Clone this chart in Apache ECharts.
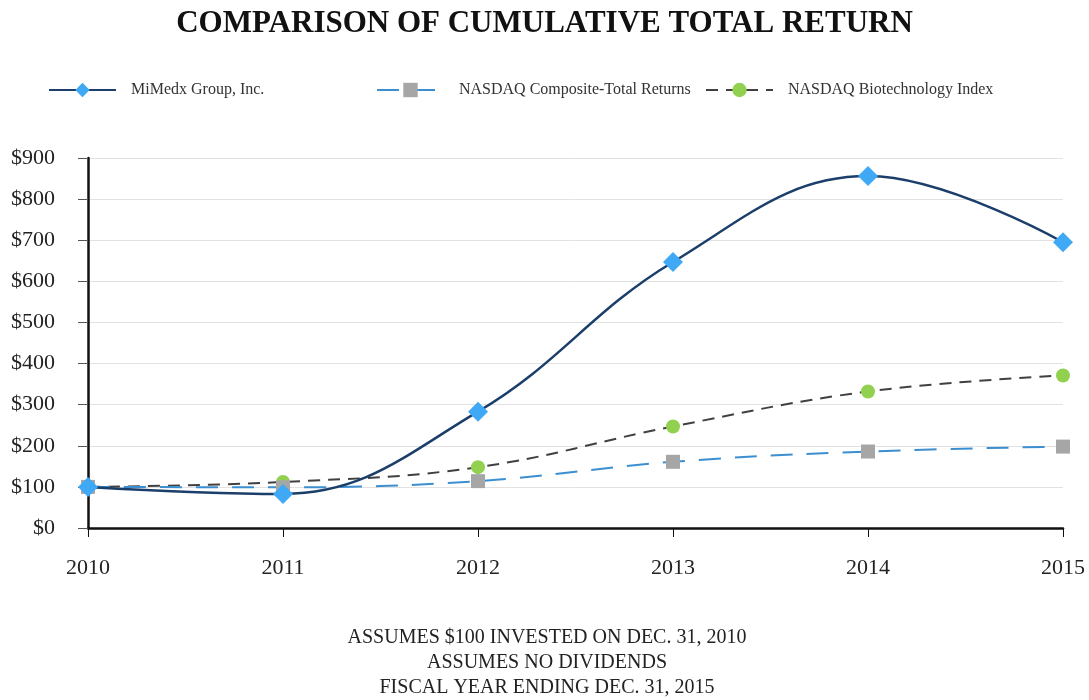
<!DOCTYPE html>
<html>
<head>
<meta charset="utf-8">
<script src="https://cdn.jsdelivr.net/npm/echarts@6/dist/echarts.min.js"></script>
<style>
html,body{margin:0;padding:0;background:#fff;}
#c{width:1089px;height:700px;}
</style>
</head>
<body>
<div id="c"></div>
<script>
const years = ['2010','2011','2012','2013','2014','2015'];
const mimedx = [100, 83, 283, 647, 856, 695];
const nasdaqComposite = [100, 99, 114, 161, 186, 198];
const nasdaqBiotech = [100, 112, 148, 247, 332, 371];
const seriesNames = ['MiMedx Group, Inc.', 'NASDAQ Composite-Total Returns', 'NASDAQ Biotechnology Index'];
const footnotes = ['ASSUMES $100 INVESTED ON DEC. 31, 2010', 'ASSUMES NO DIVIDENDS', 'FISCAL YEAR ENDING DEC. 31, 2015'];

const serif = '"Liberation Serif", "Times New Roman", serif';
const chart = echarts.init(document.getElementById('c'), null, {renderer: 'canvas'});
const legendBase = {
  top: 77, itemWidth: 67, itemHeight: 18, itemGap: 10,
  textStyle: {fontFamily: serif, fontSize: 16, color: '#333', padding: [0, 0, 0, 10]}
};
chart.setOption({
  animation: false,
  backgroundColor: '#fff',
  title: [
    {text: 'COMPARISON OF CUMULATIVE TOTAL RETURN', left: 'center', top: 3,
     textStyle: {fontFamily: serif, fontSize: 31, fontWeight: 'bold', color: '#111'}},
    {text: footnotes.join('\n'), left: 542, textAlign: 'center', top: 620,
     textStyle: {fontFamily: serif, fontSize: 20, fontWeight: 'normal', color: '#222', lineHeight: 25}}
  ],
  legend: [
    Object.assign({}, legendBase, {left: 43, data: [seriesNames[0]]}),
    Object.assign({}, legendBase, {left: 371, data: [seriesNames[1]]}),
    Object.assign({}, legendBase, {left: 700, data: [seriesNames[2]]})
  ],
  grid: {left: 88, right: 26, top: 158, bottom: 172, containLabel: false},
  xAxis: {
    type: 'category', data: years, boundaryGap: false,
    axisLine: {lineStyle: {color: '#111', width: 2.5}},
    axisTick: {show: true, length: 9, lineStyle: {color: '#111', width: 1}},
    axisLabel: {fontFamily: serif, fontSize: 22, color: '#222', margin: 29}
  },
  yAxis: {
    type: 'value', min: 0, max: 900, interval: 100,
    axisLine: {show: true, lineStyle: {color: '#111', width: 2.5}},
    axisTick: {show: true, length: 10, lineStyle: {color: '#555', width: 1}},
    axisLabel: {fontFamily: serif, fontSize: 22, color: '#222', margin: 33, formatter: v => '$' + v},
    splitLine: {lineStyle: {color: '#e2e2e2', width: 1}}
  },
  series: [
    {
      name: seriesNames[2], type: 'line', data: nasdaqBiotech, smooth: 0.4,
      symbol: 'circle', symbolSize: 14,
      lineStyle: {color: '#404040', width: 2, type: [12, 8]},
      itemStyle: {color: '#92d050'}, z: 3
    },
    {
      name: seriesNames[1], type: 'line', data: nasdaqComposite, smooth: 0.4,
      symbol: 'rect', symbolSize: 14,
      lineStyle: {color: '#3b8fd0', width: 2, type: [22, 14]},
      itemStyle: {color: '#a6a6a6'}, z: 4
    },
    {
      name: seriesNames[0], type: 'line', data: mimedx, smooth: 0.4,
      symbol: 'diamond', symbolSize: 20,
      lineStyle: {color: '#1b3f6a', width: 2.5},
      itemStyle: {color: '#3fa9f5'}, z: 5
    }
  ]
});
</script>
</body>
</html>
